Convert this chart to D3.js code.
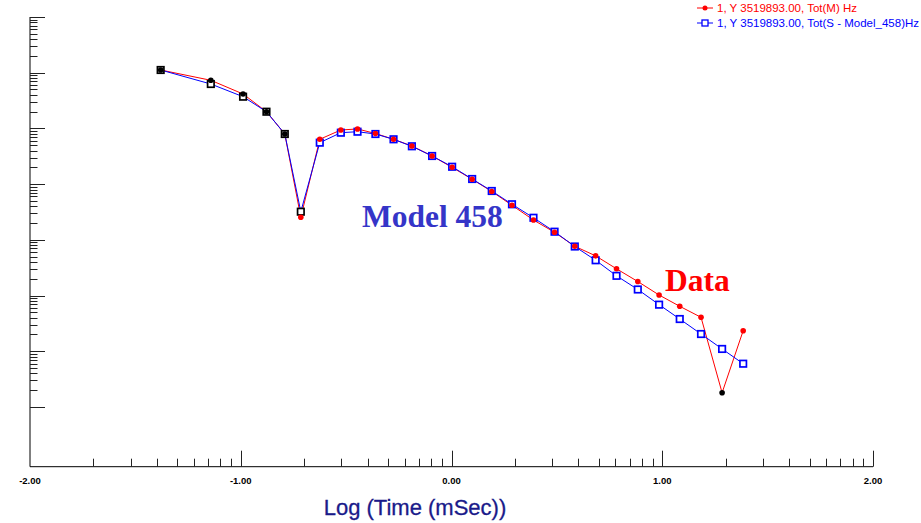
<!DOCTYPE html>
<html>
<head>
<meta charset="utf-8">
<script src="https://cdn.jsdelivr.net/npm/d3@7/dist/d3.min.js"></script>
<style>
  html, body { margin: 0; padding: 0; background: #fff; }
  svg { display: block; }
</style>
</head>
<body>
<svg id="chart" width="921" height="523"></svg>
<script>
// ---- Data ----
// log10 of time in mSec
const logTime = [-1.380, -1.142, -0.989, -0.878, -0.791, -0.715, -0.625, -0.525, -0.446, -0.361,
  -0.275, -0.188, -0.092, 0.003, 0.098, 0.191, 0.287, 0.389, 0.489, 0.585,
  0.684, 0.783, 0.884, 0.985, 1.083, 1.184, 1.284, 1.384];
// Measured data Tot(M) (negative values are drawn in black, as absolute values)
const dataValues = [-111.9, -73.1, -41.5, -19.95, -7.94, 0.254, 6.38, 9.38, 9.77, 8.11,
  6.38, 4.83, 3.20, 2.00, 1.222, 0.738, 0.417, 0.227, 0.1365, 0.0766,
  0.0516, 0.0302, 0.01786, 0.01023, 0.00641, 0.00407, -0.000180, 0.00234];
// Model Tot(S - Model_458)
const modelValues = [-111.9, -62.7, -37.1, -19.95, -7.94, -0.320, 5.55, 8.38, 8.73, 7.94,
  6.38, 4.78, 3.20, 2.05, 1.236, 0.753, 0.435, 0.249, 0.140, 0.0759,
  0.0430, 0.0226, 0.01285, 0.00686, 0.00379, 0.00204, 0.00110, 0.000598];
const xTickValues = [-2, -1, 0, 1, 2];
const xTickLabels = ["-2.00", "-1.00", "0.00", "1.00", "2.00"];
const legendLabels = ["1, Y 3519893.00, Tot(M) Hz", "1, Y 3519893.00, Tot(S - Model_458)Hz"];
const xTitle = "Log (Time (mSec))";
const yTopDecade = 3;     // exponent of the top major tick
const yBottomDecade = -4; // exponent of the lowest major tick

(function () {
// ---- Layout ----
const svg = d3.select("#chart");
const pLeft = 30, pRight = 873, pTop = 17, pBottom = 466.7;
const decadePx = 55.71;
const yMinVal = Math.pow(10, yTopDecade - (pBottom - pTop) / decadePx);

const x = d3.scaleLinear().domain([-2, 2]).range([pLeft, pRight]);
const y = d3.scaleLog().domain([yMinVal, Math.pow(10, yTopDecade)]).range([pBottom, pTop]);

const axisColor = "#000";

// y-axis line and ticks
const gy = svg.append("g");
gy.append("line").attr("x1", pLeft).attr("x2", pLeft).attr("y1", pTop).attr("y2", pBottom)
  .attr("stroke", axisColor).attr("stroke-width", 1);
const yTicks = [];
for (let k = yTopDecade; k >= yBottomDecade; k--) {
  yTicks.push({ v: Math.pow(10, k), major: true });
  if (k > yBottomDecade) {
    for (let m = 2; m <= 9; m++) yTicks.push({ v: m * Math.pow(10, k - 1), major: false });
  }
}
gy.selectAll("line.yt").data(yTicks).enter().append("line")
  .attr("class", "yt")
  .attr("x1", pLeft).attr("x2", d => pLeft + (d.major ? 15 : 7.5))
  .attr("y1", d => Math.round(y(d.v)) + 0.5).attr("y2", d => Math.round(y(d.v)) + 0.5)
  .attr("stroke", "#222").attr("stroke-width", 1);

// x-axis line and ticks
const gx = svg.append("g");
gx.append("line").attr("x1", pLeft).attr("x2", pRight).attr("y1", pBottom).attr("y2", pBottom)
  .attr("stroke", axisColor).attr("stroke-width", 1);
const xTicks = [];
for (let d = -2; d < 2; d++) {
  for (let m = 2; m <= 9; m++) xTicks.push({ v: d + Math.log10(m), major: false });
  xTicks.push({ v: d + 1, major: true });
}
gx.selectAll("line.xt").data(xTicks).enter().append("line")
  .attr("class", "xt")
  .attr("x1", d => Math.round(x(d.v)) + 0.5).attr("x2", d => Math.round(x(d.v)) + 0.5)
  .attr("y1", pBottom).attr("y2", d => pBottom - (d.major ? 16 : 8))
  .attr("stroke", "#222").attr("stroke-width", 1);

gx.selectAll("text.xl").data(xTickValues).enter().append("text")
  .attr("class", "xl")
  .attr("x", d => x(d)).attr("y", 484)
  .attr("text-anchor", "middle")
  .attr("font-family", "Arial, 'Liberation Sans', sans-serif")
  .attr("font-weight", "bold").attr("font-size", "9.5px").attr("fill", "#000")
  .text((d, i) => xTickLabels[i]);

svg.append("text")
  .attr("x", 415).attr("y", 515).attr("text-anchor", "middle")
  .attr("font-family", "Arial, 'Liberation Sans', sans-serif")
  .attr("font-size", "22px").attr("fill", "#1a1a8a")
  .attr("stroke", "#1a1a8a").attr("stroke-width", 0.3)
  .text(xTitle);

// ---- Series ----
const dataPts = logTime.map((t, i) => ({ t, v: dataValues[i] }));
const modelPts = logTime.map((t, i) => ({ t, v: modelValues[i] }));
const line = d3.line().x(d => x(d.t)).y(d => y(Math.abs(d.v)));

svg.append("path").datum(dataPts).attr("d", line)
  .attr("fill", "none").attr("stroke", "#ff0000").attr("stroke-width", 1);
svg.append("path").datum(modelPts).attr("d", line)
  .attr("fill", "none").attr("stroke", "#0000ff").attr("stroke-width", 1);

const sq = 6.5;
svg.selectAll("rect.m").data(modelPts).enter().append("rect")
  .attr("class", "m")
  .attr("x", d => x(d.t) - sq / 2).attr("y", d => y(Math.abs(d.v)) - sq / 2)
  .attr("width", sq).attr("height", sq)
  .attr("fill", "#fff")
  .attr("stroke", d => d.v < 0 ? "#000" : "#0000ff").attr("stroke-width", 1.7);

svg.selectAll("circle.d").data(dataPts).enter().append("circle")
  .attr("class", "d")
  .attr("cx", d => x(d.t)).attr("cy", d => y(Math.abs(d.v)))
  .attr("r", 2.8)
  .attr("fill", d => d.v < 0 ? "#000" : "#ff0000");

// ---- Annotations ----
svg.append("text").attr("x", 362).attr("y", 227)
  .attr("font-family", "'Times New Roman', 'Liberation Serif', serif")
  .attr("font-weight", "bold").attr("font-size", "31.5px").attr("fill", "#3535c8")
  .text("Model 458");
svg.append("text").attr("x", 665).attr("y", 291)
  .attr("font-family", "'Times New Roman', 'Liberation Serif', serif")
  .attr("font-weight", "bold").attr("font-size", "31.5px").attr("fill", "#ff0000")
  .text("Data");

// ---- Legend ----
const legend = svg.append("g");
const legendColors = ["#ff0000", "#0000ff"];
const legendY = [8, 23];
legendLabels.forEach((lab, i) => {
  const g = legend.append("g");
  g.append("line").attr("x1", 697).attr("x2", 713).attr("y1", legendY[i]).attr("y2", legendY[i])
    .attr("stroke", legendColors[i]).attr("stroke-width", 1);
  if (i === 0) {
    g.append("circle").attr("cx", 705).attr("cy", legendY[i]).attr("r", 2.5).attr("fill", legendColors[i]);
  } else {
    g.append("rect").attr("x", 702).attr("y", legendY[i] - 3).attr("width", 6).attr("height", 6)
      .attr("fill", "#fff").attr("stroke", legendColors[i]).attr("stroke-width", 1.3);
  }
  g.append("text").attr("x", 717).attr("y", legendY[i] + 4)
    .attr("font-family", "Arial, 'Liberation Sans', sans-serif")
    .attr("font-size", "11.5px").attr("fill", legendColors[i])
    .text(lab);
});
})();
</script>
</body>
</html>
